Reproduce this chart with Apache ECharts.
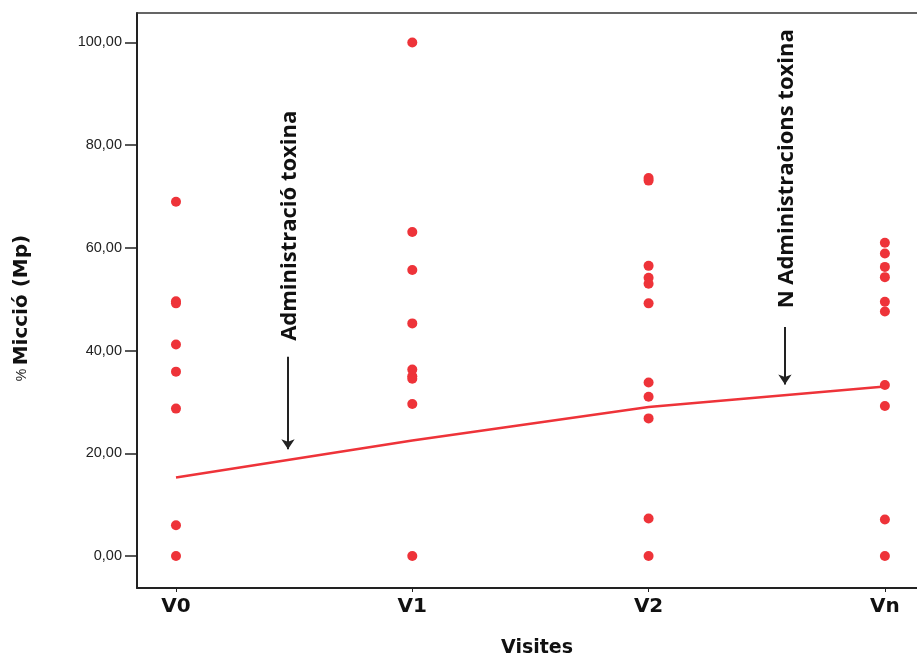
<!DOCTYPE html>
<html>
<head>
<meta charset="utf-8">
<script src="https://cdn.jsdelivr.net/npm/echarts@6/dist/echarts.min.js"></script>
<style>
html,body{margin:0;padding:0;background:#fff;}
#chart{width:917px;height:654px;}
</style>
</head>
<body>
<div id="chart"></div>
<script>
// ---- data ----
const categories = ['V0', 'V1', 'V2', 'Vn'];
const valuesV0 = [69.0, 49.6, 49.2, 41.2, 35.9, 28.7, 6.0, 0];
const valuesV1 = [100.0, 63.1, 55.7, 45.3, 36.3, 35.0, 34.5, 29.6, 0];
const valuesV2 = [73.6, 73.1, 56.5, 54.2, 53.0, 49.2, 33.8, 31.0, 26.8, 7.3, 0];
const valuesVn = [61.0, 58.9, 56.3, 54.3, 49.5, 47.6, 33.3, 29.2, 7.1, 0];
const trendValues = [15.3, 22.5, 29.0, 33.0];
const yTicks = [0, 20, 40, 60, 80, 100];
const xTicks = [0, 1, 2, 3];
// annotations: [x position (category units), arrow start value, arrow end value, text, text centre value]
const annotations = [
  [0.474, 38.8, 20.8, 'Administració toxina', 64.3],
  [2.577, 44.6, 33.4, 'N Administracions toxina', 75.4]
];

const groups = [valuesV0, valuesV1, valuesV2, valuesVn];
const scatterData = [];
groups.forEach((arr, i) => arr.forEach(v => scatterData.push([i, v])));
const trendData = trendValues.map((v, i) => [i, v]);

const red = '#ee3339';
const axisCol = '#222';
const xMin = -0.165, xMax = -0.165 + 780 / 236.3;

const chart = echarts.init(document.getElementById('chart'));
const option = {
  backgroundColor: '#fff',
  animation: false,
  grid: { left: 137, top: 13, right: 0, bottom: 66, show: false, outerBoundsMode: 'none', containLabel: false },
  xAxis: [{
    type: 'value', min: xMin, max: xMax,
    splitLine: { show: false },
    axisLine: { show: true, onZero: false, lineStyle: { color: axisCol, width: 2 } },
    axisTick: { show: true, customValues: xTicks, length: 4, lineStyle: { color: axisCol } },
    axisLabel: {
      customValues: xTicks, margin: 9,
      formatter: v => categories[Math.round(v)] || '',
      fontFamily: 'DejaVu Sans', fontWeight: 'bold', fontSize: 20, color: '#111'
    }
  }, {
    type: 'value', position: 'top', min: xMin, max: xMax,
    splitLine: { show: false },
    axisLine: { show: true, onZero: false, lineStyle: { color: '#333', width: 1.5 } },
    axisTick: { show: false }, axisLabel: { show: false }
  }],
  yAxis: {
    type: 'value', min: -6.23, max: 105.74,
    splitLine: { show: false },
    axisLine: { show: true, onZero: false, lineStyle: { color: axisCol, width: 2 } },
    axisTick: { show: true, customValues: yTicks, length: 12, lineStyle: { color: axisCol, width: 1.5 } },
    axisLabel: {
      customValues: yTicks, margin: 15,
      formatter: v => v.toFixed(2).replace('.', ','),
      fontFamily: 'Liberation Sans', fontSize: 14.5, color: '#222'
    }
  },
  series: [{
    type: 'line', data: trendData, symbol: 'none',
    lineStyle: { color: red, width: 2.5 }, z: 3,
    markLine: {
      silent: true, symbol: ['none', 'arrow'], symbolSize: 10,
      label: { show: false },
      lineStyle: { color: '#222', width: 2, type: 'solid' },
      data: annotations.map(a => [{ coord: [a[0], a[1]] }, { coord: [a[0], a[2]] }])
    }
  }, {
    type: 'scatter', data: scatterData, symbol: 'circle', symbolSize: 10,
    itemStyle: { color: red, opacity: 1 }, z: 4
  }]
};
chart.setOption(option);

const textGraphics = annotations.map(a => {
  const p = chart.convertToPixel({ gridIndex: 0 }, [a[0], a[4]]);
  return {
    type: 'text', x: p[0] + 2, y: p[1], rotation: Math.PI / 2,
    style: {
      text: a[3], fontFamily: 'Open Sans', fontWeight: 'bold', fontSize: 22,
      fill: '#111', align: 'center', verticalAlign: 'middle'
    }
  };
});
textGraphics.push({
  type: 'text', x: 22, y: 308, rotation: Math.PI / 2,
  style: {
    text: '{a|%} {b|Micció (Mp)}', align: 'center', verticalAlign: 'middle',
    rich: {
      a: { fontFamily: 'Liberation Sans', fontSize: 14, fill: '#222' },
      b: { fontFamily: 'DejaVu Sans', fontWeight: 'bold', fontSize: 20, fill: '#111' }
    }
  }
});
textGraphics.push({
  type: 'text', x: 537, y: 648,
  style: {
    text: 'Visites', fontFamily: 'DejaVu Sans', fontWeight: 'bold', fontSize: 19,
    fill: '#111', align: 'center', verticalAlign: 'middle'
  }
});
chart.setOption({ graphic: textGraphics });
</script>
</body>
</html>
